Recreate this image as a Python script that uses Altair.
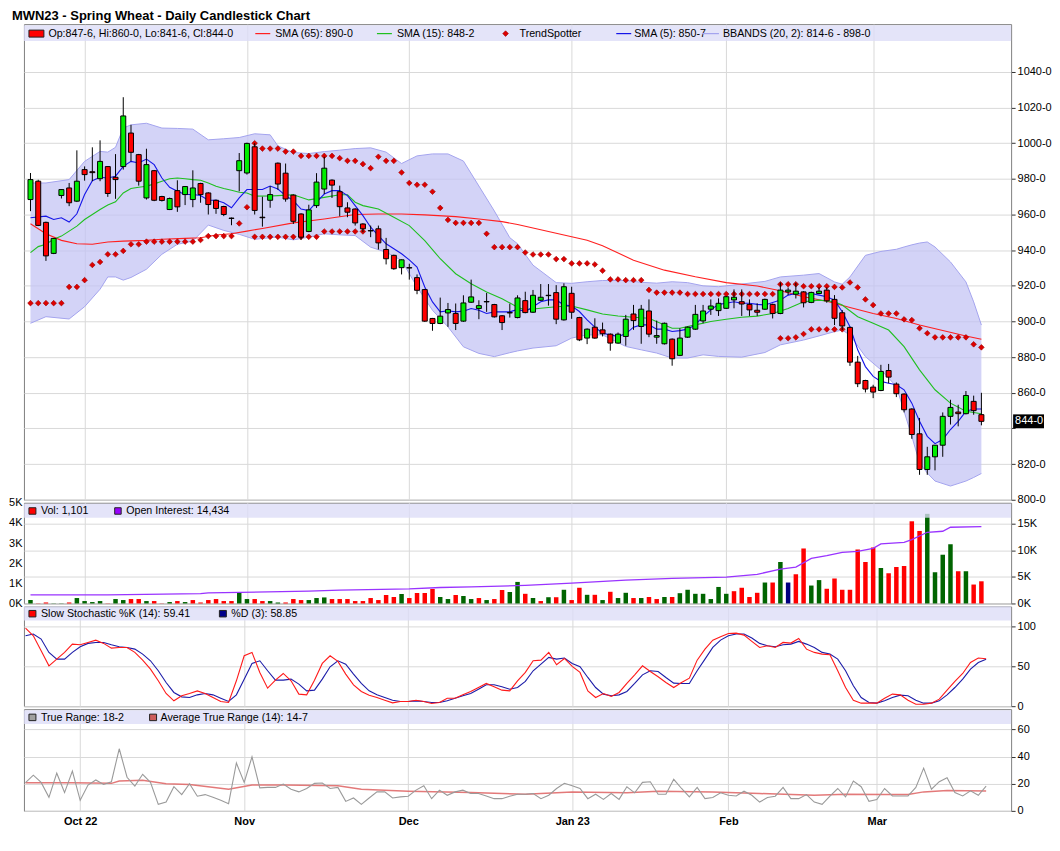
import altair as alt
import pandas as pd

FONT = "Liberation Sans"
GRID = "#d9d9d9"
W = 990
H1, H2, H3, H4 = 477, 101, 100, 102
XDOM = [-0.2, 126.2]
PDOM = [800, 1066.8]

MONTH_IDX = [7, 28, 49, 70, 90, 109]
MONTH_LBL = ["Oct 22", "Nov", "Dec", "Jan 23", "Feb", "Mar"]
PRICE_TICKS = [800, 820, 840, 860, 880, 900, 920, 940, 960, 980, 1000, 1020, 1040]
VOL_TICKS = [0, 1, 2, 3, 4, 5]
OI_TICKS = [0, 5, 10, 15]
STOCH_TICKS = [0, 50, 100]
TR_TICKS = [0, 20, 40, 60]

# ---------------- daily candles ----------------
opens = [968.4, 978.7, 955.6, 938.2, 970.7, 974.9, 967.5, 985.2, 984.0, 980.1,
         986.9, 980.9, 986.9, 1005.7, 993.6, 969.3, 984.6, 970.1, 962.8, 973.4,
         971.2, 968.4, 977.4, 972.1, 968.0, 964.5, 958.0, 984.6, 983.3, 998.0,
         958.5, 968.0, 988.8, 983.2, 970.9, 960.3, 950.5, 965.0, 974.3, 979.3,
         972.8, 963.7, 963.1, 954.7, 951.0, 952.0, 940.4, 937.1, 930.2, 930.2,
         924.6, 917.9, 901.7, 898.9, 904.8, 904.5, 900.2, 910.8, 907.3, 911.2,
         909.5, 903.2, 905.0, 902.2, 911.7, 905.2, 911.9, 914.7, 916.2, 900.9,
         915.8, 902.2, 890.7, 896.8, 895.3, 892.9, 887.9, 891.6, 904.2, 897.2,
         905.9, 891.2, 887.5, 890.1, 881.0, 891.2, 895.7, 900.3, 906.9, 906.1,
         907.4, 912.1, 911.1, 909.6, 906.3, 906.9, 909.6, 904.5, 916.6, 915.3,
         916.6, 910.7, 915.7, 917.6, 912.4, 904.9, 896.7, 877.2, 866.9, 863.2,
         861.3, 872.5, 864.9, 859.3, 850.9, 837.0, 817.0, 824.1, 830.6, 846.8,
         849.2, 848.3, 855.2, 847.75]
highs = [983.3, 979.5, 956.0, 946.8, 974.2, 977.7, 996.0, 987.0, 997.7, 1001.6,
         987.2, 993.9, 1025.8, 1010.3, 994.0, 996.9, 985.0, 970.5, 969.5, 979.2,
         976.0, 984.8, 977.8, 972.5, 968.4, 964.9, 958.3, 994.5, 1000.3, 1000.0,
         970.0, 975.9, 989.2, 988.6, 971.3, 960.7, 965.5, 983.2, 992.4, 979.7,
         976.2, 966.9, 963.5, 955.1, 953.8, 953.8, 946.9, 937.5, 934.8, 932.4,
         926.4, 918.3, 902.0, 913.4, 910.4, 910.1, 914.7, 923.5, 911.9, 916.0,
         909.9, 903.6, 910.0, 914.7, 916.7, 917.7, 921.0, 921.0, 920.4, 921.4,
         919.5, 902.6, 896.1, 901.8, 899.4, 893.3, 893.8, 903.7, 909.3, 909.3,
         912.4, 900.5, 899.4, 890.5, 896.2, 897.2, 909.3, 909.3, 912.4, 913.0,
         914.3, 918.0, 918.0, 912.4, 910.2, 912.8, 910.0, 921.9, 919.1, 921.7,
         917.0, 916.7, 919.1, 919.1, 914.8, 906.4, 897.1, 880.7, 867.3, 864.5,
         875.7, 876.2, 865.8, 859.7, 851.3, 845.9, 829.7, 830.6, 849.0, 856.1,
         853.3, 861.0, 858.4, 860.0]
lows = [961.9, 953.5, 934.0, 937.8, 969.0, 964.7, 967.0, 979.0, 978.7, 978.7,
        969.9, 968.8, 985.2, 989.8, 976.2, 968.4, 967.5, 967.3, 962.5, 961.5,
        965.3, 964.1, 966.6, 960.0, 960.4, 959.1, 954.0, 973.0, 982.4, 960.0,
        953.2, 963.8, 973.9, 967.2, 954.7, 945.8, 950.1, 963.7, 971.5, 969.3,
        959.0, 958.5, 953.8, 950.1, 947.3, 940.4, 932.0, 929.0, 926.4, 923.5,
        915.3, 899.8, 894.8, 898.5, 897.0, 895.2, 899.8, 910.4, 901.3, 905.4,
        902.2, 895.2, 902.2, 901.8, 904.6, 904.8, 911.5, 908.9, 898.5, 900.5,
        901.5, 889.0, 887.3, 890.3, 891.6, 883.6, 887.5, 886.4, 895.3, 887.5,
        891.2, 887.5, 887.1, 875.2, 880.6, 890.8, 895.3, 899.0, 903.7, 903.1,
        907.0, 907.4, 903.1, 903.1, 903.1, 906.5, 901.7, 904.1, 914.8, 912.9,
        907.9, 910.3, 915.3, 910.5, 898.0, 895.2, 875.1, 863.2, 860.2, 857.0,
        860.9, 865.4, 857.6, 849.0, 834.2, 814.0, 814.0, 816.5, 824.1, 842.2,
        841.2, 847.9, 847.7, 841.75]
closes = [979.6, 953.9, 936.8, 946.6, 974.0, 966.6, 978.7, 982.4, 983.5, 989.8,
          971.8, 979.6, 1015.3, 994.9, 978.7, 988.0, 968.0, 967.9, 969.0, 964.3,
          975.7, 974.9, 971.2, 965.6, 963.4, 960.0, 957.8, 990.2, 999.9, 962.3,
          958.2, 971.2, 977.1, 968.7, 956.2, 947.3, 962.6, 978.2, 986.0, 976.5,
          964.4, 961.3, 955.3, 952.0, 950.8, 944.1, 935.2, 929.6, 934.6, 930.0,
          917.5, 900.2, 898.9, 903.0, 906.7, 898.9, 910.4, 913.8, 908.9, 911.0,
          902.6, 899.4, 904.8, 913.2, 905.0, 914.7, 913.6, 914.5, 901.3, 919.5,
          905.2, 889.7, 895.7, 890.7, 893.1, 887.9, 892.9, 901.3, 900.5, 906.9,
          892.9, 892.1, 899.0, 879.1, 890.7, 896.8, 904.0, 905.9, 908.7, 910.2,
          913.9, 913.6, 909.8, 906.5, 905.2, 912.4, 904.5, 917.6, 917.6, 917.0,
          910.5, 916.3, 917.0, 911.6, 901.8, 897.5, 877.2, 865.1, 862.1, 860.4,
          872.0, 868.8, 859.5, 850.5, 836.6, 817.0, 824.1, 830.6, 846.8, 851.8,
          848.3, 858.5, 850.0, 844.0]

# ---------------- volume (thousands) & open interest ----------------
volumes_k = [0.17, 0.01, 0.05, 0.01, 0.01, 0.05, 0.27, 0.12, 0.07, 0.12,
             0.01, 0.22, 0.17, 0.22, 0.22, 0.12, 0.12, 0.01, 0.07, 0.12,
             0.07, 0.17, 0.05, 0.17, 0.22, 0.12, 0.12, 0.52, 0.22, 0.22,
             0.12, 0.12, 0.05, 0.05, 0.22, 0.17, 0.17, 0.27, 0.30, 0.22,
             0.22, 0.22, 0.12, 0.12, 0.27, 0.17, 0.42, 0.32, 0.47, 0.27,
             0.52, 0.52, 0.72, 0.32, 0.22, 0.42, 0.37, 0.22, 0.27, 0.17,
             0.22, 0.67, 0.57, 1.07, 0.48, 0.27, 0.12, 0.31, 0.31, 0.68,
             0.17, 0.78, 0.43, 0.43, 0.17, 0.58, 0.27, 0.53, 0.27, 0.27,
             0.32, 0.22, 0.32, 0.32, 0.51, 0.68, 0.48, 0.48, 0.22, 0.82,
             0.48, 0.61, 0.78, 0.32, 0.53, 1.04, 1.04, 2.06, 1.04, 1.45,
             2.73, 0.89, 1.16, 0.73, 1.24, 0.68, 0.68, 2.68, 2.06, 2.78,
             1.76, 1.50, 1.81, 1.86, 4.08, 3.60, 4.45, 1.55, 2.42, 2.94,
             1.60, 1.60, 0.94, 1.101]
oi_i = [0, 10, 22, 23, 36, 40, 49, 53, 57, 64, 70, 77, 83, 90, 94, 97, 99, 101,
        103, 105, 107, 109, 110, 113, 114, 116, 118, 119, 123]
oi_k = [1.6, 1.6, 1.84, 2.0, 2.3, 2.5, 2.75, 3.0, 3.1, 3.4, 3.83, 4.39, 4.7, 4.96,
        5.46, 6.46, 6.84, 8.47, 8.97, 9.6, 9.79, 10.35, 11.17, 11.48, 11.98, 13.36,
        13.55, 14.3, 14.434]

# ---------------- overlays ----------------
sma65_i = [0, 2, 4, 6, 8, 10, 12, 15, 17, 20, 22, 24, 26, 28, 30, 34, 38, 42, 45, 48,
           51, 55, 58, 61, 63, 72, 74, 78, 82, 86, 90, 94, 97, 100, 103, 106, 109, 112,
           115, 118, 121, 123]
sma65_v = [954.8, 949.2, 945.5, 943.6, 943.3, 944.6, 945.1, 945.5, 946.1, 946.6,
           947.0, 948.5, 949.2, 950.7, 952.2, 955.3, 957.5, 960.0, 960.3, 960.3,
           959.8, 958.8, 957.5, 956.0, 954.4, 945.6, 942.5, 934.4, 928.8, 925.1,
           921.8, 919.9, 917.2, 913.9, 911.4, 907.9, 904.5, 901.7, 898.0, 894.9,
           891.9, 890.0]
sma15_i = [0, 1, 2, 3, 4, 5, 6, 7, 8, 9, 10, 11, 12, 13, 14, 15, 16, 17, 18, 19, 20,
           21, 22, 23, 24, 25, 26, 27, 28, 29, 31, 32, 34, 36, 38, 40, 41, 42, 43, 45,
           47, 49, 51, 53, 55, 57, 59, 61, 63, 64, 66, 68, 70, 72, 74, 76, 78, 80, 82,
           83, 84, 86, 88, 90, 92, 94, 96, 98, 100, 102, 104, 105, 107, 109, 111, 113,
           115, 117, 119, 121, 123]
sma15_v = [938.6, 942.0, 943.3, 946.1, 947.9, 950.7, 953.5, 957.2, 960.0, 962.8,
           965.3, 967.1, 972.1, 974.6, 975.3, 975.9, 977.2, 978.7, 980.1, 980.5,
           980.1, 979.6, 979.2, 977.7, 975.9, 974.6, 973.6, 972.5, 972.1, 970.3,
           970.4, 970.6, 971.1, 968.2, 969.6, 971.1, 971.1, 966.9, 965.0, 963.1,
           958.5, 953.8, 945.4, 935.2, 926.8, 921.2, 916.6, 912.8, 908.0, 906.5,
           907.4, 908.3, 908.7, 906.5, 904.2, 903.1, 902.4, 901.8, 898.1, 896.2,
           896.2, 898.1, 900.0, 901.3, 902.4, 903.0, 904.5, 907.3, 911.1, 912.0,
           911.1, 909.2, 902.7, 899.0, 895.2, 885.9, 872.9, 861.7, 854.2, 849.6,
           848.25]
sma5_i = [0] + list(range(2, 96)) + list(range(97, 124))
sma5_v = [958.2,
          959.1, 957.2, 958.2, 955.8, 960.4, 971.2, 979.0, 980.9, 980.5, 981.5,
          987.0, 989.8, 988.9, 991.1, 988.0, 980.5, 975.3, 973.1, 971.2, 971.2,
          970.7, 968.0, 968.0, 966.6, 963.8, 969.3, 974.0, 974.0, 974.0, 976.0,
          974.3, 970.6, 967.8, 963.1, 962.2, 966.9, 971.5, 973.4, 973.4, 970.6,
          965.0, 959.4, 952.9, 948.2, 943.6, 940.8, 938.0, 934.6, 930.5, 919.4,
          911.0, 905.4, 906.0, 905.4, 905.8, 907.3, 906.3, 904.5, 905.4, 905.4,
          905.4, 906.8, 905.6, 908.3, 911.1, 912.1, 912.1, 909.3, 908.7, 905.6,
          900.9, 896.8, 893.4, 892.5, 891.6, 893.1, 896.8, 898.1, 898.1, 895.7,
          895.7, 894.4, 894.9, 895.7, 898.1, 902.8, 906.5, 909.6, 910.2, 911.1,
          910.2, 910.2, 909.6, 909.3,
          912.0, 914.8, 915.7, 915.3, 915.7, 914.8, 913.9, 912.0, 905.5, 897.1,
          884.1, 874.7, 869.2, 866.4, 865.4, 864.5, 861.7, 854.2, 844.0, 835.6,
          831.5, 833.8, 839.4, 844.0, 849.6, 850.9, 850.9]
bb_i = [0, 2, 5, 7, 9, 10, 11, 12, 13, 15, 17, 19, 21, 23, 25, 27, 29, 31, 32, 34,
        36, 38, 40, 42, 44, 46, 48, 50, 52, 54, 56, 58, 60, 62, 63, 65, 68, 70, 72,
        74, 77, 79, 81, 83, 85, 87, 89, 92, 95, 97, 100, 102, 104, 105, 106, 108,
        110, 112, 113, 114, 115, 116, 117, 119, 121, 122, 123]
bb_up = [977.7, 977.7, 979.6, 989.8, 995.4, 995.0, 997.7, 1008.5, 1010.3, 1011.2,
         1008.5, 1008.3, 1007.9, 1001.9, 1002.5, 1003.2, 1005.3, 1004.7, 998.5, 994.8,
         994.2, 995.3, 996.1, 997.0, 997.4, 995.0, 988.6, 992.9, 994.0, 994.0,
         990.0, 976.0, 962.0, 947.0, 943.6, 931.6, 921.8, 921.4, 922.3, 923.0,
         923.0, 922.0, 921.5, 922.3, 921.8, 920.0, 919.5, 921.0, 922.5, 925.0,
         926.0, 926.9, 922.2, 920.9, 925.0, 937.1, 939.3, 940.5, 941.8, 943.0,
         944.0, 944.6, 941.8, 933.4, 922.2, 911.0, 898.0]
bb_lo = [899.0, 902.7, 901.4, 908.3, 918.1, 925.0, 925.0, 923.2, 924.7, 929.3,
         937.7, 943.3, 945.1, 954.1, 951.1, 948.9, 946.1, 947.0, 947.3, 945.8,
         947.3, 949.2, 948.6, 948.2, 941.7, 938.9, 934.3, 919.4, 906.3, 897.0,
         885.8, 882.1, 880.3, 882.5, 883.5, 885.1, 886.4, 890.7, 892.5, 892.5,
         886.0, 884.1, 882.3, 879.5, 879.5, 881.3, 880.4, 880.0, 882.6, 886.9,
         889.6, 891.9, 894.3, 895.2, 892.4, 880.3, 872.9, 863.6, 849.6, 835.6,
         820.7, 815.0, 810.5, 807.7, 810.5, 812.5, 814.75]
# TrendSpotter: three runs of dots (start index, values)
ts_a_start = 0
ts_a = [910.3, 910.3, 910.3, 910.3, 910.3, 919.4, 919.4, 923.2, 931.7, 933.4,
        937.7, 937.7, 939.6, 943.3, 943.3, 944.8, 944.8, 944.8, 944.8, 944.8,
        944.8, 944.8, 945.7, 947.9, 947.9, 947.9, 947.9, 955.0, 964.1, 947.5,
        947.5, 947.5, 947.5, 947.5, 947.5, 947.5, 947.5, 947.5, 950.5, 950.5,
        950.5, 950.5, 950.5, 950.5]
ts_b_start = 29
ts_b = [1000.0, 997.0, 997.0, 997.0, 995.3, 995.3, 992.9, 992.9, 992.9, 992.9,
        992.9, 991.6, 990.1, 990.1, 988.3, 986.0, 992.4, 990.1, 990.1, 983.6,
        977.7, 976.7, 976.7, 972.8, 963.7, 957.0, 955.3, 955.3, 955.3, 955.3,
        949.2, 941.7, 941.7, 941.7, 941.7, 938.7, 937.6, 937.6, 937.6, 935.0,
        935.0, 932.6, 932.6, 932.6, 932.0, 928.5, 923.6, 923.6, 923.2, 923.2,
        923.2, 917.7, 916.2, 916.2, 916.2, 916.2, 915.4, 915.4, 915.4, 915.4,
        915.4, 915.4, 915.4, 915.4, 915.4, 915.4, 915.4, 915.4, 920.9, 920.9,
        920.9, 919.8, 919.8, 919.8, 919.8, 919.4, 919.1, 921.9, 919.1, 912.4,
        909.2, 904.5, 904.5, 904.5, 901.2, 900.8, 896.2, 893.4, 891.1, 891.1,
        891.1, 891.1, 891.1, 887.2, 885.5]
ts_c_start = 97
ts_c = [890.6, 890.6, 891.1, 893.0, 895.6, 895.6, 895.6, 895.6, 895.6]

# ---------------- slow stochastic ----------------
stoch_k = [97.9, 88.3, 69.5, 50.6, 59.0, 67.4, 77.8, 77.0, 79.9, 82.8,
           78.7, 72.8, 73.6, 73.6, 67.4, 57.7, 46.4, 31.8, 15.9, 6.7,
           13.0, 15.9, 19.2, 15.9, 10.9, 5.9, 4.6, 31.8, 63.2, 67.4,
           42.3, 22.6, 32.6, 41.0, 31.8, 15.1, 14.2, 32.6, 53.6, 63.2,
           56.1, 40.2, 26.8, 18.4, 13.8, 10.9, 7.5, 4.2, 5.9, 5.9,
           7.5, 5.9, 3.3, 4.6, 10.0, 10.0, 14.2, 18.4, 23.4, 28.5,
           24.3, 20.1, 19.2, 31.8, 42.3, 56.9, 57.7, 67.4, 51.9, 59.8,
           49.8, 42.3, 19.2, 10.9, 15.9, 12.1, 17.2, 28.5, 39.3, 50.6,
           43.5, 36.8, 29.7, 23.4, 29.7, 35.1, 57.7, 71.5, 82.8, 87.0,
           91.2, 91.6, 89.1, 81.2, 73.6, 75.7, 73.6, 79.9, 79.1, 84.9,
           71.5, 67.4, 65.3, 64.4, 44.4, 23.4, 7.5, 3.8, 3.8, 3.8,
           10.0, 15.1, 14.2, 7.5, 2.5, 2.5, 3.8, 8.8, 20.1, 31.0,
           41.0, 54.8, 60.3, 59.41]
stoch_d = [88.3, 90.4, 84.1, 67.4, 59.0, 59.0, 67.4, 74.5, 78.7, 79.9,
           79.9, 77.0, 74.5, 73.6, 71.5, 65.3, 56.9, 44.4, 29.7, 17.2,
           11.7, 10.9, 14.2, 15.9, 14.2, 10.0, 5.9, 14.2, 33.9, 53.6,
           56.9, 44.4, 32.6, 32.6, 33.9, 27.6, 19.2, 20.1, 33.9, 49.4,
           56.9, 52.7, 40.2, 28.5, 19.2, 14.2, 10.9, 7.5, 5.9, 5.9,
           6.7, 5.9, 4.6, 4.6, 6.7, 10.0, 13.0, 15.9, 21.3, 26.8,
           26.8, 24.3, 21.3, 23.4, 31.0, 44.4, 52.7, 61.1, 59.0, 60.3,
           53.6, 49.4, 36.0, 23.4, 15.1, 13.0, 14.2, 18.4, 28.5, 39.3,
           44.4, 43.5, 36.0, 28.9, 28.5, 28.5, 44.4, 59.0, 73.6, 82.8,
           88.3, 90.4, 90.4, 85.4, 78.7, 75.7, 74.5, 77.0, 77.8, 81.2,
           77.8, 73.6, 67.4, 65.3, 59.0, 44.4, 25.5, 10.9, 4.6, 3.8,
           6.7, 10.9, 13.8, 13.0, 7.5, 3.8, 3.8, 6.7, 14.2, 23.4,
           33.9, 46.4, 54.8, 58.85]

# ---------------- true range ----------------
true_range = [20.8, 26.3, 21.0, 10.0, 27.8, 13.5, 29.3, 7.8, 19.0, 22.8,
              19.5, 21.5, 45.8, 24.8, 18.3, 27.0, 21.0, 4.8, 6.5, 17.8,
              12.0, 20.0, 10.8, 12.0, 10.0, 7.8, 5.3, 35.3, 21.0, 39.8,
              17.0, 17.3, 17.3, 19.8, 16.0, 14.0, 16.5, 20.3, 20.5, 16.5,
              17.3, 7.0, 9.5, 4.8, 9.5, 14.0, 14.0, 9.5, 10.3, 10.8,
              15.3, 18.5, 9.0, 15.3, 11.5, 14.0, 15.3, 12.8, 12.8, 11.0,
              9.0, 9.0, 10.8, 12.3, 12.3, 12.8, 9.0, 11.5, 16.5, 20.3,
              18.5, 16.5, 9.0, 12.3, 8.5, 12.8, 8.5, 17.8, 13.3, 21.0,
              21.5, 12.3, 12.3, 23.3, 16.5, 10.3, 17.3, 9.0, 9.8, 13.3,
              11.5, 11.0, 14.5, 11.5, 6.5, 9.8, 10.8, 17.3, 9.0, 9.0,
              12.0, 6.5, 4.8, 10.8, 16.5, 10.3, 22.0, 17.8, 7.0, 8.3,
              16.5, 11.0, 11.0, 11.0, 17.3, 31.5, 16.0, 21.5, 24.5, 13.5,
              11.0, 14.8, 11.5, 18.25]
atr_i = [0, 6, 11, 12, 15, 18, 21, 26, 29, 33, 40, 43, 49, 57, 64, 70, 77, 81, 88,
         94, 101, 105, 110, 113, 115, 118, 123]
atr_v = [20.8, 20.8, 20.3, 22.0, 22.5, 20.0, 19.5, 16.0, 19.0, 19.0, 18.5, 16.0,
         14.5, 13.5, 12.3, 14.0, 13.3, 14.5, 14.0, 12.8, 11.5, 12.3, 12.0, 12.0,
         14.0, 15.0, 14.7]

LAST_PRICE = 844.0
LAST_LABEL = "844-0"

# ---------------- frames ----------------
N = len(closes)
idx = list(range(N))
candles = pd.DataFrame({"i": idx, "o": opens, "h": highs, "l": lows, "c": closes})
candles["body"] = ["up" if c > o else "down" for o, c in zip(opens, closes)]

vol_dir = ["v_up"]
for k in range(1, N):
    ch = closes[k] - closes[k - 1]
    vol_dir.append("v_up" if ch > 0.05 else ("v_down" if ch < -0.05 else "v_unch"))
vol = pd.DataFrame({"i": idx, "v": volumes_k, "d": vol_dir})
oi = pd.DataFrame({"i": oi_i, "v": oi_k})
bb = pd.DataFrame({"i": bb_i, "up": bb_up, "lo": bb_lo})
s65 = pd.DataFrame({"i": sma65_i, "v": sma65_v})
s15 = pd.DataFrame({"i": sma15_i, "v": sma15_v})
s5 = pd.DataFrame({"i": sma5_i, "v": sma5_v})
ts = pd.DataFrame({
    "i": [ts_a_start + k for k in range(len(ts_a))]
         + [ts_b_start + k for k in range(len(ts_b))]
         + [ts_c_start + k for k in range(len(ts_c))],
    "v": ts_a + ts_b + ts_c,
})
stoch = pd.DataFrame({"i": idx, "k": stoch_k, "d": stoch_d})
trdf = pd.DataFrame({"i": idx, "v": true_range})
atr = pd.DataFrame({"i": atr_i, "v": atr_v})
last = pd.DataFrame({"p": [LAST_PRICE], "lbl": [LAST_LABEL]})
ONE = pd.DataFrame({"k": [0]})

# ---------------- encodings ----------------
XS = alt.Scale(domain=XDOM, nice=False, zero=False)
LABEL_EXPR = " : ".join(f"datum.value == {k} ? '{s}'" for k, s in zip(MONTH_IDX, MONTH_LBL)) + " : ''"


def X(bottom=False):
    if bottom:
        ax = alt.Axis(values=MONTH_IDX, grid=True, gridColor=GRID, domain=False, ticks=False,
                      labelExpr=LABEL_EXPR, labelFont=FONT, labelFontSize=11,
                      labelFontWeight="bold", labelColor="#000", labelPadding=5,
                      labelFlush=False, title=None)
    else:
        ax = alt.Axis(values=MONTH_IDX, grid=True, gridColor=GRID, domain=False,
                      ticks=False, labels=False, title=None)
    return alt.X("i:Q", scale=XS, axis=ax)


PS = alt.Scale(domain=PDOM, nice=False, zero=False)
PAX = alt.Axis(orient="right", values=PRICE_TICKS, grid=True, gridColor=GRID, domain=False,
               tickSize=4, tickColor="#333", labelPadding=2,
               labelExpr="datum.value == 840 ? '' : datum.value + '-0'", title=None)


def YP(field):
    return alt.Y(f"{field}:Q", scale=PS, axis=PAX)


def txt(x, y, s, size=10.7, color="#000", weight="normal", baseline="middle"):
    return alt.Chart(ONE).mark_text(text=s, align="left", baseline=baseline, font=FONT,
                                    fontSize=size, color=color, fontWeight=weight).encode(
        x=alt.value(x), y=alt.value(y))


def box(x1, x2, y1, y2, fill, opacity=1.0, stroke=True):
    kw = dict(fill=fill, opacity=opacity)
    if stroke:
        kw.update(stroke="#222", strokeWidth=1)
    return alt.Chart(ONE).mark_rect(**kw).encode(
        x=alt.value(x1), x2=alt.value(x2), y=alt.value(y1), y2=alt.value(y2))


def seg(x1, x2, y, color, sw=1.2):
    return alt.Chart(ONE).mark_rule(color=color, strokeWidth=sw).encode(
        x=alt.value(x1), x2=alt.value(x2), y=alt.value(y))


def band(y1, y2):
    return box(0, W, y1, y2, "#dcdcf7", opacity=0.78, stroke=False)


# ---------------- panel 1: price ----------------
bb_area = alt.Chart(bb).mark_area(color="#c2c2f4", opacity=0.72).encode(x=X(), y=YP("up"), y2="lo:Q")
bb_u = alt.Chart(bb).mark_line(color="#a4a4ee", strokeWidth=1).encode(x=X(), y=YP("up"))
bb_l = alt.Chart(bb).mark_line(color="#a4a4ee", strokeWidth=1).encode(x=X(), y=YP("lo"))
l65 = alt.Chart(s65).mark_line(color="#ff2020", strokeWidth=1.1).encode(x=X(), y=YP("v"))
l15 = alt.Chart(s15).mark_line(color="#1fc01f", strokeWidth=1.1).encode(x=X(), y=YP("v"))
l5 = alt.Chart(s5).mark_line(color="#1515e8", strokeWidth=1.1).encode(x=X(), y=YP("v"))
ts_pts = alt.Chart(ts).mark_point(shape="diamond", filled=True, size=32, color="#dd0000",
                                  opacity=1, stroke="#9a0000", strokeWidth=0.6).encode(
    x=X(), y=YP("v"))
wicks = alt.Chart(candles).mark_rule(color="#000", strokeWidth=1).encode(x=X(), y=YP("l"), y2="h:Q")
bodies = alt.Chart(candles).mark_bar(size=5, stroke="#000", strokeWidth=1).encode(
    x=X(), y=YP("o"), y2="c:Q",
    color=alt.Color("body:N", scale=alt.Scale(domain=["up", "down"], range=["#00ee00", "#ff0000"]),
                    legend=None))
last_box = alt.Chart(last).transform_calculate(top="datum.p + 3.9", bot="datum.p - 3.9").mark_rect(
    color="#000").encode(x=alt.value(W + 2), x2=alt.value(W + 33), y=YP("top"), y2="bot:Q")
last_txt = alt.Chart(last).mark_text(align="left", baseline="middle", color="#fff", font=FONT,
                                     fontSize=11).encode(x=alt.value(W + 4), y=YP("p"), text="lbl:N")

LY1 = 9.5
p1_legend = [
    band(1, 17),
    box(5, 20, 6, 13, "#ff0000"),
    txt(24.5, LY1, "Op:847-6, Hi:860-0, Lo:841-6, Cl:844-0"),
    seg(232, 247, LY1, "#ff2020"),
    txt(252, LY1, "SMA (65): 890-0"),
    seg(354, 369, LY1, "#1fc01f"),
    txt(374, LY1, "SMA (15): 848-2"),
    alt.Chart(ONE).mark_point(shape="diamond", filled=True, size=32, color="#dd0000", opacity=1,
                              stroke="#9a0000", strokeWidth=0.6).encode(x=alt.value(483), y=alt.value(LY1)),
    txt(497, LY1, "TrendSpotter"),
    seg(594, 609, LY1, "#1515e8"),
    txt(612, LY1, "SMA (5): 850-7"),
    seg(680, 697, LY1, "#a4a4ee"),
    txt(701, LY1, "BBANDS (20, 2): 814-6 - 898-0"),
    txt(-12, -4, "MWN23 - Spring Wheat - Daily Candlestick Chart", size=13, weight="bold",
        baseline="alphabetic"),
]
p1 = alt.layer(bb_area, bb_u, bb_l, l65, l15, l5, ts_pts, wicks, bodies, last_box, last_txt,
               *p1_legend).properties(width=W, height=H1)

# ---------------- panel 2: volume / open interest ----------------
VS = alt.Scale(domain=[0, 5], nice=False)
VAX = alt.Axis(orient="left", values=VOL_TICKS, labelExpr="datum.value + 'K'", grid=False,
               domain=False, tickSize=0, labelPadding=2, title=None)
OS = alt.Scale(domain=[0, 18.9], nice=False)
OAX = alt.Axis(orient="right", values=OI_TICKS, labelExpr="datum.value + 'K'", grid=True,
               gridColor=GRID, domain=False, tickSize=4, tickColor="#333", labelPadding=2, title=None)
vol_bars = alt.Chart(vol).mark_bar(size=4.5).encode(
    x=X(), y=alt.Y("v:Q", scale=VS, axis=VAX),
    color=alt.Color("d:N", scale=alt.Scale(domain=["v_up", "v_down", "v_unch"],
                                           range=["#006400", "#ff0000", "#000080"]), legend=None))
oi_line = alt.Chart(oi).mark_line(color="#9933ff", strokeWidth=1.3).encode(
    x=X(), y=alt.Y("v:Q", scale=OS, axis=OAX))
LY2 = 8.5
p2 = alt.layer(
    vol_bars, oi_line, band(1, 15),
    box(5, 12, 5, 11.5, "#ff0000"), txt(17, LY2, "Vol: 1,101"),
    box(91, 97.5, 5, 11.5, "#9900ff"), txt(102.5, LY2, "Open Interest: 14,434"),
).resolve_scale(y="independent").properties(width=W, height=H2)

# ---------------- panel 3: slow stochastic ----------------
SS = alt.Scale(domain=[0, 125], nice=False)
SAX = alt.Axis(orient="right", values=STOCH_TICKS, grid=True, gridColor=GRID, domain=False,
               tickSize=4, tickColor="#333", labelPadding=2, title=None)
d_line = alt.Chart(stoch).mark_line(color="#1c1ca8", strokeWidth=1.1).encode(
    x=X(), y=alt.Y("d:Q", scale=SS, axis=SAX))
k_line = alt.Chart(stoch).mark_line(color="#ff1a1a", strokeWidth=1.1).encode(
    x=X(), y=alt.Y("k:Q", scale=SS, axis=SAX))
LY3 = 7.5
p3 = alt.layer(
    d_line, k_line, band(0, 14),
    box(5, 12, 4, 10.5, "#ff0000"), txt(17, LY3, "Slow Stochastic %K (14): 59.41"),
    box(196, 203, 4, 10.5, "#00008b"), txt(208, LY3, "%D (3): 58.85"),
).properties(width=W, height=H3)

# ---------------- panel 4: true range ----------------
TS_ = alt.Scale(domain=[0, 75], nice=False)
TAX = alt.Axis(orient="right", values=TR_TICKS, grid=True, gridColor=GRID, domain=False,
               tickSize=4, tickColor="#333", labelPadding=2, title=None)
atr_line = alt.Chart(atr).mark_line(color="#e06a6a", strokeWidth=1.5, opacity=0.9).encode(
    x=X(True), y=alt.Y("v:Q", scale=TS_, axis=TAX))
tr_line = alt.Chart(trdf).mark_line(color="#9a9a9a", strokeWidth=1.1).encode(
    x=X(True), y=alt.Y("v:Q", scale=TS_, axis=TAX))
LY4 = 8.5
p4 = alt.layer(
    atr_line, tr_line, band(1, 15),
    box(5, 12, 5, 11.5, "#a0a0a0"), txt(17, LY4, "True Range: 18-2"),
    box(126, 133, 5, 11.5, "#cd5c5c"), txt(137, LY4, "Average True Range (14): 14-7"),
).properties(width=W, height=H4)

chart = alt.vconcat(p1, p2, p3, p4, spacing=3, bounds="flush").resolve_scale(
    color="independent"
).properties(
    padding=0
).configure_view(stroke="#808080", strokeWidth=1).configure_axis(
    labelFont=FONT, labelFontSize=11, labelColor="#000"
)

chart.save("out.html", embed_options={"renderer": "svg", "actions": False})
